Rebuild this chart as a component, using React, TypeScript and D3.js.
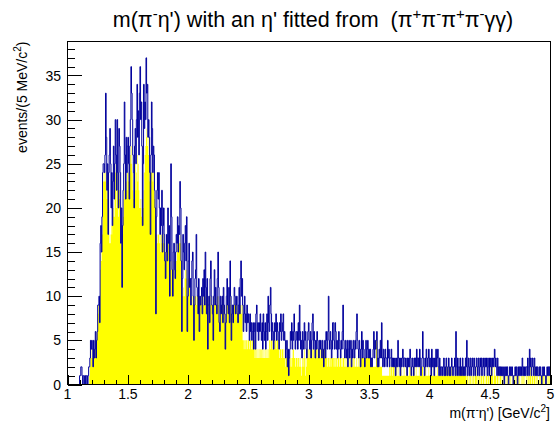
import React from "react";
import * as d3 from "d3";

const W = 556;
const H = 426;
const X_MIN = 1;
const X_MAX = 5;
const BIN_WIDTH = 0.005;

const xTickValues = [1, 1.5, 2, 2.5, 3, 3.5, 4, 4.5, 5];
const xTickLabels = ["1", "1.5", "2", "2.5", "3", "3.5", "4", "4.5", "5"];
const yTickValues = [0, 5, 10, 15, 20, 25, 30, 35];
const yTickLabels = ["0", "5", "10", "15", "20", "25", "30", "35"];

// all events, 5 MeV bins from 1.0 to 5.0 GeV (rows of 0.1 GeV)
const allEvents = [
  0,0,0,0,0,0,0,0,0,0,0,0,0,0,0,0,0,0,0,0,
  1,1,2,2,1,0,1,1,0,1,0,1,1,0,1,2,2,3,5,4,
  5,4,2,5,3,4,6,3,5,6,9,9,10,7,16,18,15,19,24,25,
  25,24,26,33,28,22,25,17,24,26,29,25,20,24,18,23,27,21,25,30,
  26,22,30,24,20,29,27,24,16,20,11,18,22,25,32,26,21,28,24,27,
  28,25,21,27,30,36,33,30,26,24,20,27,29,25,30,34,28,31,26,33,
  36,30,32,27,18,25,34,29,32,30,37,33,34,28,30,28,24,17,26,32,
  29,24,27,26,22,20,8,19,22,24,21,24,20,17,20,18,22,15,18,20,
  17,14,12,15,17,14,20,16,18,10,14,25,19,13,10,15,16,13,12,15,
  17,16,19,15,18,17,23,20,14,6,12,17,15,13,16,18,14,19,6,10,
  14,16,11,12,9,12,14,15,10,5,9,12,13,17,11,10,8,12,6,10,
  9,10,11,8,12,10,13,9,15,11,8,12,4,9,10,7,12,14,10,9,
  8,5,10,13,9,11,9,8,12,15,11,7,6,10,8,9,10,7,11,9,
  8,4,7,10,12,9,8,11,7,14,10,5,8,9,7,9,11,10,8,9,
  10,8,7,9,11,8,12,14,10,12,9,6,8,10,7,8,6,9,7,8,
  7,5,8,6,7,5,6,7,4,6,7,4,8,9,6,7,5,7,6,8,
  6,5,7,4,8,6,5,7,4,6,8,5,10,7,6,9,11,8,5,7,
  6,4,5,7,6,8,5,7,6,5,4,7,6,8,5,6,7,8,5,6,
  5,3,4,5,2,4,1,3,4,6,5,7,4,6,5,8,6,4,5,6,
  6,4,7,5,9,6,4,5,3,6,5,4,7,5,6,4,3,5,6,7,
  5,4,6,3,5,7,8,4,6,5,3,5,4,6,5,4,3,5,4,5,
  4,3,5,4,2,4,5,3,6,5,4,6,10,5,4,6,5,3,4,7,
  7,5,4,7,6,4,5,3,4,6,5,4,3,5,4,6,9,5,4,3,
  5,4,3,5,2,4,5,3,4,5,2,4,3,5,4,3,5,4,6,8,
  5,4,3,5,4,2,4,6,3,5,4,3,2,4,5,3,4,5,3,4,
  3,4,2,3,2,3,4,6,3,5,4,5,6,2,3,2,4,3,5,3,
  7,3,2,4,3,2,4,3,3,2,5,3,4,2,3,3,4,2,3,2,
  3,2,3,1,2,3,2,5,3,2,3,1,3,2,3,4,2,3,3,2,
  3,2,1,3,2,3,2,4,3,1,2,3,2,1,3,2,3,2,4,3,
  2,3,2,4,3,1,2,3,6,3,2,1,3,2,4,3,2,3,4,2,
  3,2,1,4,2,3,2,1,3,2,4,2,3,4,2,1,3,2,1,2,
  2,1,2,3,1,2,1,3,2,1,2,3,1,2,1,2,3,2,1,2,
  2,3,1,6,2,1,3,2,1,2,3,1,2,1,3,2,1,2,1,3,
  2,5,1,2,3,1,2,3,1,2,3,2,1,3,2,1,2,3,2,1,
  3,2,1,3,2,3,1,2,3,2,1,3,2,3,2,1,3,2,1,3,
  2,3,1,2,3,2,3,4,2,3,2,1,3,2,1,2,1,2,1,2,
  1,2,1,0,2,1,2,1,2,1,0,1,2,1,2,1,2,1,0,1,
  1,2,1,2,1,0,2,1,2,1,2,1,2,3,1,2,1,2,1,2,
  2,1,3,2,1,4,2,3,1,2,3,2,1,3,2,1,2,1,2,1,
  1,2,1,2,1,0,1,2,1,2,1,1,0,1,2,1,2,1,2,1,
];

// events with an eta' fitted (yellow), same binning
const fittedEvents = [
  0,0,0,0,0,0,0,0,0,0,0,0,0,0,0,0,0,0,0,0,
  0,0,0,0,0,0,0,0,0,0,0,0,0,0,0,0,1,2,3,3,
  4,3,2,5,3,4,6,3,5,6,8,9,9,7,13,15,14,17,21,23,
  24,23,24,23,22,21,23,17,20,16,17,16,18,17,18,19,20,19,22,24,
  25,20,24,22,19,21,22,20,16,18,11,17,19,21,22,24,21,23,22,24,
  24,23,21,25,26,27,25,24,22,21,20,23,25,22,24,26,23,25,22,20,
  21,20,19,21,18,20,22,24,26,27,28,29,27,28,26,25,23,17,24,24,
  24,23,24,22,21,20,8,17,17,16,17,17,16,17,15,17,16,15,17,16,
  16,14,12,15,16,14,17,16,15,10,13,14,13,12,10,13,14,12,12,13,
  14,15,16,15,16,16,17,16,12,6,10,10,11,10,12,13,12,13,6,10,
  12,13,11,10,9,10,10,9,10,5,9,10,10,9,10,10,8,10,6,9,
  9,10,9,8,10,9,10,9,10,9,8,10,4,9,10,7,9,10,9,9,
  8,5,9,10,9,10,9,8,10,10,9,7,6,9,8,9,10,7,9,9,
  8,4,7,9,10,9,8,9,7,10,9,5,8,9,7,9,9,9,8,9,
  9,8,7,8,9,8,9,9,8,9,5,5,4,5,5,4,5,5,4,5,
  5,4,5,5,4,5,5,4,4,5,3,4,3,4,3,4,3,4,3,4,
  3,4,3,4,3,4,3,3,4,3,4,3,4,3,5,5,4,5,5,4,
  5,4,5,4,5,5,4,5,5,4,4,3,4,4,3,4,4,3,4,3,
  3,2,3,3,2,3,1,3,2,3,3,2,3,4,4,3,3,2,3,3,
  3,2,3,3,2,3,2,1,2,4,3,2,4,3,1,2,3,4,3,4,
  4,3,4,3,4,4,3,4,4,3,3,4,4,3,4,4,3,4,3,4,
  4,3,4,3,2,4,4,3,3,3,2,3,3,2,3,3,2,3,3,3,
  3,2,3,3,2,3,3,2,3,3,2,3,3,2,3,2,3,3,2,3,
  2,3,2,3,2,2,3,2,3,2,2,3,2,3,2,3,2,2,3,2,
  2,3,2,2,3,2,3,3,3,3,3,3,2,3,3,3,3,3,3,3,
  3,3,2,3,2,2,2,2,2,2,2,5,5,2,2,2,2,2,2,2,
  2,1,1,1,1,1,1,1,1,1,1,1,1,2,2,1,2,2,1,2,
  2,1,2,1,2,1,1,2,1,1,1,1,2,1,1,1,1,2,1,1,
  1,2,1,1,1,1,2,1,2,1,1,1,1,1,2,1,1,2,1,1,
  1,1,2,1,1,1,1,2,2,1,1,1,1,2,1,1,1,1,2,1,
  1,1,1,2,1,1,1,1,2,1,1,1,2,1,1,1,1,1,1,1,
  1,1,1,1,1,1,1,2,1,1,1,2,1,1,1,1,2,1,1,1,
  1,1,1,2,1,1,1,1,1,2,2,1,2,1,2,1,1,1,1,1,
  1,0,1,1,0,1,0,1,1,0,1,0,1,1,0,1,2,1,0,1,
  1,0,1,1,0,1,1,0,1,1,0,1,0,1,1,0,1,1,0,1,
  1,2,1,2,1,0,1,2,1,1,0,1,1,0,1,0,1,1,0,1,
  0,1,0,0,1,0,1,0,1,0,0,1,0,1,0,0,1,0,0,1,
  0,1,0,1,0,0,1,0,1,0,0,1,0,1,0,1,0,1,0,0,
  1,0,1,1,0,1,2,1,0,1,1,0,1,2,1,0,1,0,1,0,
  0,1,0,1,0,0,1,0,1,1,0,0,0,1,1,0,1,0,1,0,
];

const FONT = "'Liberation Sans', Arial, Helvetica, sans-serif";
const BLUE = "#00009c";
const YELLOW = "#ffff00";

export default function App() {
  const frame = { left: 67.5, right: 550.5, top: 41.5, bottom: 384.5 };
  const yMax = 1.05 * (d3.max(allEvents) as number);
  const x = d3.scaleLinear().domain([X_MIN, X_MAX]).range([frame.left, frame.right]);
  const y = d3.scaleLinear().domain([0, yMax]).range([frame.bottom, frame.top]);

  const toPts = (arr: number[]) => {
    const pts: [number, number][] = arr.map((v, i) => [X_MIN + i * BIN_WIDTH, v]);
    pts.push([X_MAX, arr[arr.length - 1]]);
    return pts;
  };

  const line = d3
    .line<[number, number]>()
    .x((d) => x(d[0]))
    .y((d) => y(d[1]))
    .curve(d3.curveStepAfter);
  const area = d3
    .area<[number, number]>()
    .x((d) => x(d[0]))
    .y0(y(0))
    .y1((d) => y(d[1]))
    .curve(d3.curveStepAfter);

  const xMinor = d3.range(10, 51).map((i) => i / 10);
  const yMinor = d3.range(0, Math.floor(yMax) + 1);

  return (
    <svg
      width={W}
      height={H}
      style={{ position: "absolute", left: 0, top: 0, background: "#fff" }}
      fontFamily={FONT}
    >
      <rect x={0} y={0} width={W} height={H} fill="#fff" />
      <path d={area(toPts(fittedEvents)) || ""} fill={YELLOW} stroke="none" />
      <path d={line(toPts(allEvents)) || ""} fill="none" stroke={BLUE} strokeWidth={1} />

      <g shapeRendering="crispEdges" stroke="#000" strokeWidth={1}>
        <rect
          x={frame.left}
          y={frame.top}
          width={frame.right - frame.left}
          height={frame.bottom - frame.top}
          fill="none"
        />
        {xMinor.map((v) => {
          const major = Math.abs(v * 2 - Math.round(v * 2)) < 1e-6;
          return (
            <line
              key={"xm" + v}
              x1={Math.round(x(v)) + 0.5}
              x2={Math.round(x(v)) + 0.5}
              y1={frame.bottom}
              y2={frame.bottom - (major ? 10 : 5)}
            />
          );
        })}
        {yMinor.map((v) => {
          const major = v % 5 === 0;
          return (
            <line
              key={"ym" + v}
              x1={frame.left}
              x2={frame.left + (major ? 14 : 7)}
              y1={Math.round(y(v)) + 0.5}
              y2={Math.round(y(v)) + 0.5}
            />
          );
        })}
      </g>

      <g fontSize={14} fill="#000">
        {xTickValues.map((v, i) => (
          <text key={"xl" + v} x={x(v)} y={399} textAnchor="middle">
            {xTickLabels[i]}
          </text>
        ))}
        {yTickValues.map((v, i) => (
          <text key={"yl" + v} x={61} y={y(v)} dy="0.36em" textAnchor="end">
            {yTickLabels[i]}
          </text>
        ))}
      </g>

      <text x={550} y={418} fontSize={14} textAnchor="end">
        m(π<tspan fontSize={10} dy={-5}>-</tspan>
        <tspan dy={5}>η') [GeV/c</tspan>
        <tspan fontSize={10} dy={-6}>2</tspan>
        <tspan dy={6}>]</tspan>
      </text>

      <text
        transform={`translate(27,${frame.top}) rotate(-90)`}
        fontSize={14}
        textAnchor="end"
      >
        events/(5 MeV/c<tspan fontSize={10} dy={-6}>2</tspan>
        <tspan dy={6}>)</tspan>
      </text>

      <text x={313} y={27} fontSize={21.5} textAnchor="middle">
        m(π<tspan fontSize={15} dy={-8}>-</tspan>
        <tspan dy={8}>{"η') with an η' fitted from\u00A0 (π"}</tspan>
        <tspan fontSize={15} dy={-8}>+</tspan>
        <tspan dy={8}>π</tspan>
        <tspan fontSize={15} dy={-8}>-</tspan>
        <tspan dy={8}>π</tspan>
        <tspan fontSize={15} dy={-8}>+</tspan>
        <tspan dy={8}>π</tspan>
        <tspan fontSize={15} dy={-8}>-</tspan>
        <tspan dy={8}>γγ)</tspan>
      </text>
    </svg>
  );
}
